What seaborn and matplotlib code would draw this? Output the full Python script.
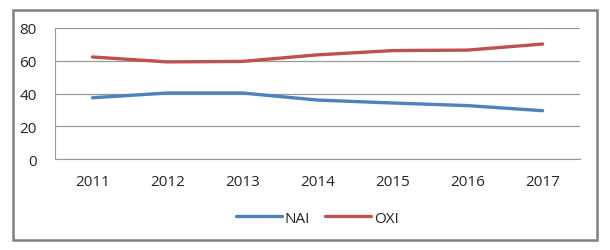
import numpy as np
import pandas as pd
import matplotlib
matplotlib.use("Agg")
import matplotlib.pyplot as plt
import matplotlib.patches as mpatches
import seaborn as sns

years = ["2011", "2012", "2013", "2014", "2015", "2016", "2017"]
nai = [37.4, 40.3, 40.3, 36.0, 34.2, 32.6, 29.5]
oxi = [62.3, 59.3, 59.6, 63.6, 66.2, 66.5, 70.2]
series_names = ["NAI", "OXI"]
y_ticks = [0, 20, 40, 60, 80]

sns.set_style("white")
plt.rcParams['font.family'] = ['Open Sans', 'DejaVu Sans']

df = pd.DataFrame({
    "x": list(range(len(years))) * 2,
    "value": nai + oxi,
    "series": [series_names[0]] * len(years) + [series_names[1]] * len(years),
})

fig = plt.figure(figsize=(6.1, 2.51), dpi=100)
ax = fig.add_axes([0.090, 0.3625, 0.861, 0.522])

sns.lineplot(data=df, x="x", y="value", hue="series",
             palette={"NAI": "#4F81BD", "OXI": "#C0504D"},
             linewidth=2.4, ax=ax, legend=True)

ax.set_xlim(-0.5, len(years) - 0.5)
ax.set_ylim(0, 80)
ax.set_yticks(y_ticks)
ax.set_yticklabels([str(v) for v in y_ticks], fontsize=11)
ax.set_xticks(range(len(years)))
ax.set_xticklabels(years, fontsize=11)
ax.tick_params(axis="x", length=0, pad=11)
ax.tick_params(axis="y", length=4, color="#999999", direction="out", pad=9)
ax.set_xticks(np.arange(-0.5, len(years)), minor=True)
ax.tick_params(axis="x", which="minor", length=5, color="#999999", direction="out")
ax.set_xlabel("")
ax.set_ylabel("")

ax.grid(axis="y", color="#999999", linewidth=0.9)
ax.set_axisbelow(True)
for side in ["top", "right"]:
    ax.spines[side].set_visible(False)
ax.spines["left"].set_color("#999999")
ax.spines["bottom"].set_color("#999999")

leg = ax.legend(loc="upper center", bbox_to_anchor=(0.5, -0.29), ncol=2,
                frameon=False, fontsize=11, handlelength=3.0,
                columnspacing=1.0, handletextpad=0.2)
for line in leg.get_lines():
    line.set_linewidth(2.4)

rect = mpatches.Rectangle((13 / 610, 1 - 241 / 251), (597 - 13) / 610, (241 - 11) / 251,
                          transform=fig.transFigure, fill=False,
                          edgecolor="#808080", linewidth=1.8)
fig.patches.append(rect)

fig.savefig("out.png", dpi=100)
